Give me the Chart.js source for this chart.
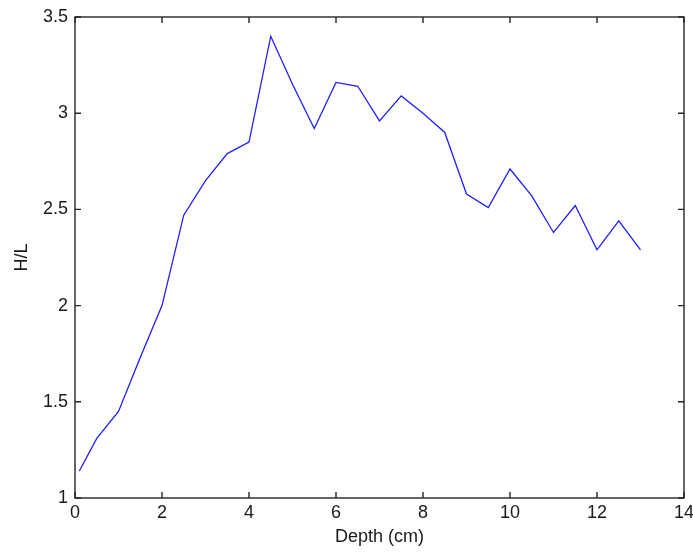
<!DOCTYPE html>
<html>
<head>
<meta charset="utf-8">
<script src="https://cdn.jsdelivr.net/npm/chart.js@4/dist/chart.umd.min.js"></script>
<style>
  html, body { margin: 0; padding: 0; background: #ffffff; }
  #wrap { width: 693px; height: 552px; }
</style>
</head>
<body>
<div id="wrap"><canvas id="c" width="693" height="552"></canvas></div>
<script>
// Data
const depthCm = [0.1, 0.5, 1, 1.5, 2, 2.5, 3, 3.5, 4, 4.5, 5, 5.5, 6, 6.5, 7, 7.5, 8, 8.5, 9, 9.5, 10, 10.5, 11, 11.5, 12, 12.5, 13];
const hlRatio = [1.14, 1.31, 1.45, 1.73, 2.0, 2.47, 2.65, 2.79, 2.85, 3.40, 3.15, 2.92, 3.16, 3.14, 2.96, 3.09, 3.0, 2.90, 2.58, 2.51, 2.71, 2.57, 2.38, 2.52, 2.29, 2.44, 2.29];
const xTicks = [0, 2, 4, 6, 8, 10, 12, 14];
const yTicks = [1, 1.5, 2, 2.5, 3, 3.5];
const xTitle = 'Depth (cm)';
const yTitle = 'H/L';

const points = depthCm.map((d, i) => ({ x: d, y: hlRatio[i] }));
const FONT = { family: '"Liberation Sans", Arial, sans-serif', size: 18 };
const TEXT = '#1a1a1a';

// Draws the MATLAB-style box and inward tick marks using the chart's scales
const boxPlugin = {
  id: 'matlabBox',
  afterDraw(chart) {
    const { ctx, chartArea: a, scales } = chart;
    const L = 6;
    ctx.save();
    ctx.strokeStyle = '#262626';
    ctx.lineWidth = 1.4;
    ctx.strokeRect(a.left, a.top, a.right - a.left, a.bottom - a.top);
    ctx.beginPath();
    xTicks.forEach(v => {
      const px = scales.x.getPixelForValue(v);
      ctx.moveTo(px, a.bottom); ctx.lineTo(px, a.bottom - L);
      ctx.moveTo(px, a.top); ctx.lineTo(px, a.top + L);
    });
    yTicks.forEach(v => {
      const py = scales.y.getPixelForValue(v);
      ctx.moveTo(a.left, py); ctx.lineTo(a.left + L, py);
      ctx.moveTo(a.right, py); ctx.lineTo(a.right - L, py);
    });
    ctx.stroke();
    ctx.restore();
  }
};

new Chart(document.getElementById('c'), {
  type: 'line',
  data: {
    datasets: [{
      data: points,
      borderColor: '#1f1fff',
      borderWidth: 1.3,
      pointRadius: 0,
      tension: 0,
      fill: false
    }]
  },
  options: {
    responsive: false,
    animation: false,
    devicePixelRatio: 1,
    layout: { padding: { top: 17, right: 9, bottom: 0, left: 0 } },
    plugins: { legend: { display: false }, tooltip: { enabled: false } },
    scales: {
      x: {
        type: 'linear',
        min: 0, max: 14,
        afterBuildTicks(scale) { scale.ticks = xTicks.map(v => ({ value: v })); },
        afterFit(scale) { scale.height = 54; scale.paddingLeft = 0; scale.paddingRight = 0; },
        grid: { display: true, drawOnChartArea: false, drawTicks: false },
        border: { display: false },
        ticks: { font: FONT, color: TEXT, padding: 4, maxRotation: 0, autoSkip: false,
                 callback: v => String(v) },
        title: { display: true, text: xTitle, font: FONT, color: TEXT, padding: { top: 0, bottom: 4 } }
      },
      y: {
        type: 'linear',
        min: 1, max: 3.5,
        afterBuildTicks(scale) { scale.ticks = yTicks.map(v => ({ value: v })); },
        afterFit(scale) { scale.width = 75; scale.paddingTop = 0; scale.paddingBottom = 0; },
        grid: { display: true, drawOnChartArea: false, drawTicks: false },
        border: { display: false },
        ticks: { font: FONT, color: TEXT, padding: 7, autoSkip: false,
                 callback: v => String(v) },
        title: { display: true, text: yTitle, font: FONT, color: TEXT, padding: { top: 11, bottom: 0 } }
      }
    }
  },
  plugins: [boxPlugin]
});
</script>
</body>
</html>
